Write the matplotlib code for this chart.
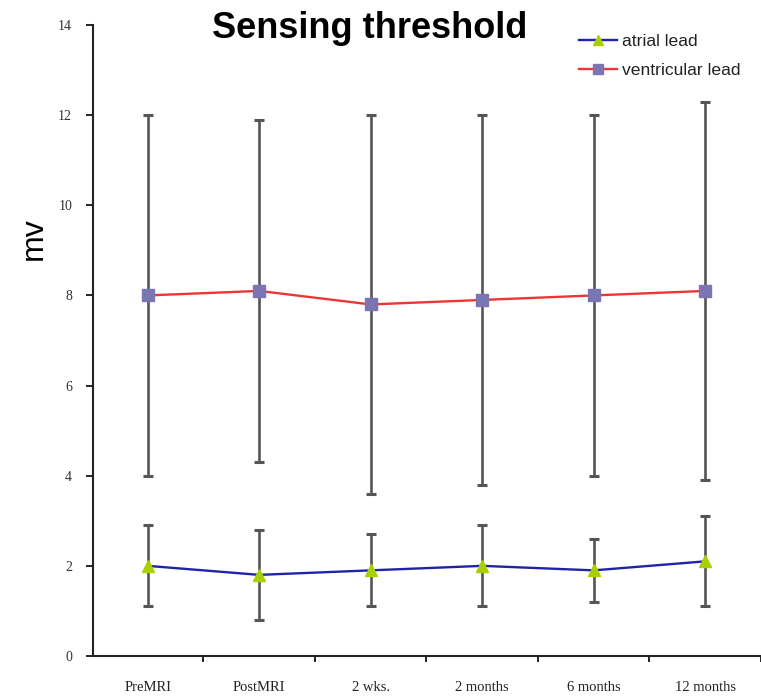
import matplotlib
matplotlib.use("Agg")
import matplotlib.pyplot as plt
import numpy as np

categories = ["PreMRI", "PostMRI", "2 wks.", "2 months", "6 months", "12 months"]

atrial_mean = [2.0, 1.8, 1.9, 2.0, 1.9, 2.1]
atrial_low = [1.1, 0.8, 1.1, 1.1, 1.2, 1.1]
atrial_high = [2.9, 2.8, 2.7, 2.9, 2.6, 3.1]

ventricular_mean = [8.0, 8.1, 7.8, 7.9, 8.0, 8.1]
ventricular_low = [4.0, 4.3, 3.6, 3.8, 4.0, 3.9]
ventricular_high = [12.0, 11.9, 12.0, 12.0, 12.0, 12.3]

y_ticks = [0, 2, 4, 6, 8, 10, 12, 14]

fig = plt.figure(figsize=(7.61, 6.96), dpi=100)
ax = fig.add_axes([93 / 761, 40 / 696, 668 / 761, 631 / 696])

x = np.arange(len(categories))


def draw(mean, low, high, line_color, marker, mface, label):
    mean = np.array(mean)
    yerr = [mean - np.array(low), np.array(high) - mean]
    ax.errorbar(x, mean, yerr=yerr, fmt="none", ecolor="#555555",
                elinewidth=1.9, capsize=3.5, capthick=2.2, zorder=2)
    ax.plot(x, mean, color=line_color, lw=1.7, marker=marker, ms=8,
            mfc=mface, mec=mface, label=label, zorder=3)


draw(atrial_mean, atrial_low, atrial_high, "#1f23a8", "^", "#a8d000", "atrial lead")
draw(ventricular_mean, ventricular_low, ventricular_high, "#ee3535", "s", "#7a76b4",
     "ventricular lead")

ax.set_xlim(-0.49, 5.46)
ax.set_ylim(0, 14)
ax.set_yticks(y_ticks)
ax.set_yticklabels([str(v) for v in y_ticks], family="Liberation Serif",
                   fontsize=10, color="#333333")
ax.set_xticks(x + 0.5, minor=False)
ax.set_xticklabels([])
ax.set_xticks(x, minor=True)
ax.set_xticklabels(categories, minor=True, family="Liberation Serif", fontsize=10.5,
                   color="#222222")
ax.tick_params(axis="x", which="minor", length=0, pad=18)
ax.tick_params(axis="x", which="major", length=4, width=1.2, direction="out")
ax.tick_params(axis="y", length=5, width=1.2, direction="out", pad=10)

for s in ["top", "right"]:
    ax.spines[s].set_visible(False)
for s in ["left", "bottom"]:
    ax.spines[s].set_linewidth(1.5)
    ax.spines[s].set_color("#222222")

fig.text(34 / 761, 1 - 239 / 696, "mv", family="Liberation Sans", fontsize=23,
         rotation=90, ha="center", va="center")

fig.text(370 / 761, 1 - 28 / 696, "Sensing threshold", family="Liberation Sans",
         fontweight="bold", fontsize=26, ha="center", va="center")

leg = ax.legend(loc="upper left", bbox_to_anchor=(563 / 761, 1 - 18 / 696),
                bbox_transform=fig.transFigure,
                frameon=False, prop={"family": "Liberation Sans", "size": 12.6},
                handlelength=2.2, handletextpad=0.3, labelspacing=0.8, markerscale=0.9)
for t in leg.get_texts():
    t.set_color("#222222")

fig.savefig("out.png", dpi=100)
